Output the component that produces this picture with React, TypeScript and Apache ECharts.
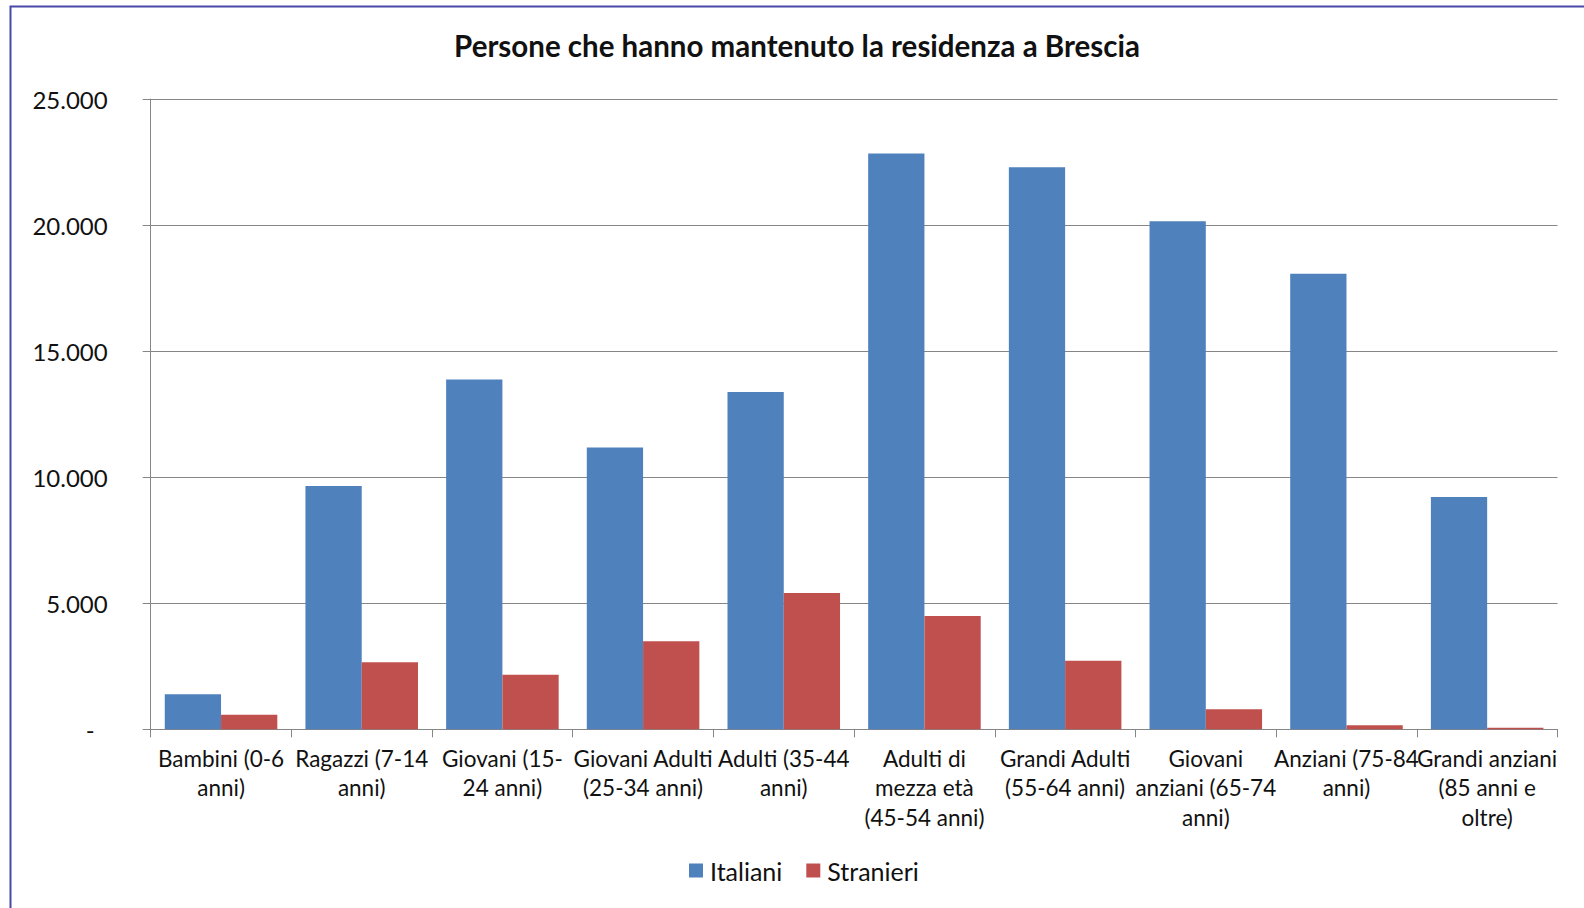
import React, { useEffect, useRef } from "react";
import * as echarts from "echarts";

const categories = [
  "Bambini (0-6\nanni)",
  "Ragazzi (7-14\nanni)",
  "Giovani (15-\n24 anni)",
  "Giovani Adulti\n(25-34 anni)",
  "Adulti (35-44\nanni)",
  "Adulti di\nmezza età\n(45-54 anni)",
  "Grandi Adulti\n(55-64 anni)",
  "Giovani\nanziani (65-74\nanni)",
  "Anziani (75-84\nanni)",
  "Grandi anziani\n(85 anni e\noltre)",
];

const italiani = [1390, 9650, 13870, 11180, 13380, 22840, 22290, 20150, 18070, 9210];
const stranieri = [580, 2660, 2160, 3490, 5410, 4490, 2720, 800, 160, 60];

const yTicks = { min: 0, max: 25000, interval: 5000 };

const FONT = "Lato";

function fmt(v: number): string {
  if (v === 0) return "{z|-}";
  return String(v).replace(/\B(?=(\d{3})+(?!\d))/g, ".");
}

export default function App() {
  const ref = useRef<HTMLDivElement>(null);
  useEffect(() => {
    if (!ref.current) return;
    const chart = echarts.init(ref.current, undefined, { renderer: "svg" });
    chart.setOption({
      animation: false,
      backgroundColor: "#ffffff",
      textStyle: { fontFamily: FONT },
      title: {
        text: "Persone che hanno mantenuto la residenza a Brescia",
        left: 797,
        textAlign: "center",
        top: 30,
        padding: 0,
        textStyle: { fontFamily: FONT, fontWeight: "bold", fontSize: 29.5, color: "#111" },
      },
      graphic: [
        {
          type: "rect",
          shape: { x: 10.5, y: 6.5, width: 1700, height: 1000 },
          style: { fill: "none", stroke: "#4848a8", lineWidth: 2 },
          silent: true,
        },
      ],
      legend: {
        data: ["Italiani", "Stranieri"],
        left: 689,
        top: 858,
        padding: 0,
        itemWidth: 14,
        itemHeight: 14,
        itemGap: 24,
        icon: "rect",
        textStyle: { fontFamily: FONT, fontSize: 25, color: "#111", padding: [0, 0, 0, 2] },
      },
      grid: { left: 150.7, right: 26.5, top: 99, bottom: 178.7, containLabel: false },
      xAxis: {
        type: "category",
        data: categories,
        axisLine: { lineStyle: { color: "#868686", width: 1 } },
        axisTick: { show: true, length: 8, lineStyle: { color: "#868686" } },
        axisLabel: {
          interval: 0,
          margin: 14,
          fontFamily: FONT,
          fontSize: 22.5,
          lineHeight: 29.5,
          color: "#111",
        },
      },
      yAxis: {
        type: "value",
        min: yTicks.min,
        max: yTicks.max,
        interval: yTicks.interval,
        axisLine: { show: true, lineStyle: { color: "#868686", width: 1 } },
        axisTick: { show: true, length: 8, lineStyle: { color: "#868686" } },
        splitLine: { lineStyle: { color: "#868686", width: 1 } },
        axisLabel: {
          margin: 43,
          fontFamily: FONT,
          fontSize: 24,
          color: "#111",
          formatter: fmt,
          rich: { z: { fontFamily: FONT, fontSize: 24, color: "#111", padding: [0, 13, 0, 0] } },
        },
      },
      series: [
        {
          name: "Italiani",
          type: "bar",
          data: italiani,
          barGap: "0%",
          barCategoryGap: "20%",
          itemStyle: { color: "#4F81BD" },
        },
        {
          name: "Stranieri",
          type: "bar",
          data: stranieri,
          barGap: "0%",
          barCategoryGap: "20%",
          itemStyle: { color: "#C0504D" },
        },
      ],
    });
    return () => chart.dispose();
  }, []);
  return (
    <div
      ref={ref}
      style={{ position: "fixed", left: 0, top: 0, width: 1584, height: 908 }}
    />
  );
}
